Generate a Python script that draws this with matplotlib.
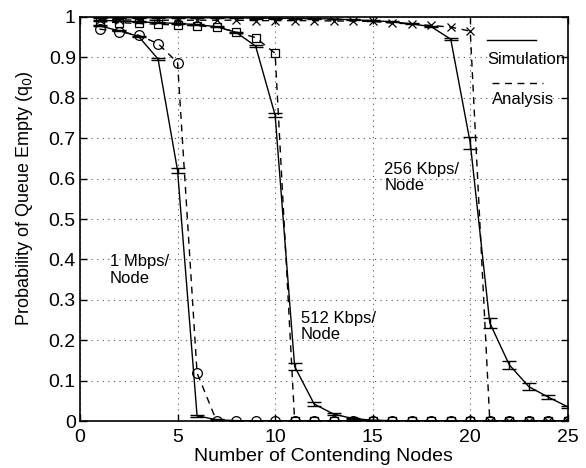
import matplotlib
matplotlib.use("Agg")
import matplotlib.pyplot as plt
from matplotlib.lines import Line2D
import numpy as np

plt.rcParams['font.family'] = ['Liberation Sans', 'DejaVu Sans']

nodes = list(range(1, 26))

# 1 Mbps/Node
sim_1m = [0.978, 0.966, 0.952, 0.896, 0.620, 0.013, 0.003, 0.001, 0, 0,
          0, 0, 0, 0, 0, 0, 0, 0, 0, 0, 0, 0, 0, 0, 0]
err_1m = [0.001, 0.001, 0.002, 0.003, 0.005, 0.003, 0.001, 0, 0, 0,
          0, 0, 0, 0, 0, 0, 0, 0, 0, 0, 0, 0, 0, 0, 0]
ana_1m = [0.970, 0.964, 0.955, 0.934, 0.887, 0.119, 0, 0, 0, 0,
          0, 0, 0, 0, 0, 0, 0, 0, 0, 0, 0, 0, 0, 0, 0]

# 512 Kbps/Node
sim_512 = [0.992, 0.990, 0.988, 0.986, 0.984, 0.981, 0.976, 0.962, 0.928, 0.757,
           0.135, 0.042, 0.017, 0.006, 0.002, 0.001, 0, 0, 0, 0, 0, 0, 0, 0, 0]
err_512 = [0.001, 0.001, 0.001, 0.001, 0.001, 0.001, 0.001, 0.002, 0.002, 0.005,
           0.009, 0.004, 0.002, 0.001, 0.001, 0, 0, 0, 0, 0, 0, 0, 0, 0, 0]
ana_512 = [0.988, 0.986, 0.984, 0.982, 0.980, 0.978, 0.975, 0.963, 0.949, 0.910,
           0, 0, 0, 0, 0, 0, 0, 0, 0, 0, 0, 0, 0, 0, 0]

# 256 Kbps/Node
sim_256 = [0.998, 0.998, 0.998, 0.998, 0.998, 0.998, 0.998, 0.998, 0.997, 0.997,
           0.996, 0.996, 0.995, 0.993, 0.991, 0.988, 0.983, 0.976, 0.945, 0.688,
           0.243, 0.139, 0.085, 0.059, 0.035]
err_256 = [0.001, 0.001, 0.001, 0.001, 0.001, 0.001, 0.001, 0.001, 0.001, 0.001,
           0.001, 0.001, 0.001, 0.001, 0.001, 0.001, 0.001, 0.002, 0.002, 0.015,
           0.012, 0.010, 0.008, 0.005, 0.003]
ana_256 = [0.993, 0.993, 0.992, 0.992, 0.992, 0.992, 0.992, 0.992, 0.991, 0.991,
           0.991, 0.991, 0.990, 0.990, 0.989, 0.985, 0.983, 0.979, 0.975, 0.965,
           0, 0, 0, 0, 0]

labels_1m = "1 Mbps/\nNode"
labels_512 = "512 Kbps/\nNode"
labels_256 = "256 Kbps/\nNode"

fig = plt.figure(figsize=(5.86, 4.68), dpi=100)
ax = fig.add_axes([0.1365, 0.1004, 0.8325, 0.8633])

for sim, err, ana, mk, ms in [(sim_1m, err_1m, ana_1m, 'o', 7),
                              (sim_512, err_512, ana_512, 's', 6),
                              (sim_256, err_256, ana_256, 'x', 6)]:
    ax.errorbar(nodes, sim, yerr=err, color='black', lw=1.0, capsize=5,
                elinewidth=1.0, capthick=1.0)
    ax.plot(nodes, ana, color='black', lw=1.0, ls=(0, (5, 4)), marker=mk,
            markersize=ms, markerfacecolor='none', markeredgecolor='black',
            markeredgewidth=0.9)

ax.set_xlim(0, 25)
ax.set_ylim(0, 1)
ax.set_xticks([0, 5, 10, 15, 20, 25])
ax.set_yticks(np.arange(0, 1.01, 0.1))
ax.set_yticklabels(['0', '0.1', '0.2', '0.3', '0.4', '0.5', '0.6', '0.7',
                    '0.8', '0.9', '1'])
ax.tick_params(direction='in', top=True, right=True, labelsize=14,
               length=5, width=1)
ax.tick_params(axis='x', pad=6)
ax.tick_params(axis='y', pad=3)
ax.grid(True, color='#555555', ls=(0, (1, 4)), lw=0.8)
for s in ax.spines.values():
    s.set_linewidth(1.2)

ax.set_xlabel("Number of Contending Nodes", fontsize=14)
ax.xaxis.set_label_coords(0.5, -0.067)
ax.set_ylabel("Probability of Queue Empty (q$_0$)", fontsize=13)
ax.yaxis.set_label_coords(-0.092, 0.552)

ax.text(1.54, 0.374, labels_1m, fontsize=12, va='center', linespacing=1.1)
ax.text(11.33, 0.233, labels_512, fontsize=12, va='center', linespacing=1.1)
ax.text(15.6, 0.603, labels_256, fontsize=12, va='center', linespacing=1.1)

# legend (line above text, no box)
ax.add_line(Line2D([0.835, 0.935], [0.943, 0.943], transform=ax.transAxes,
                   color='black', lw=1.0))
ax.text(0.835, 0.896, "Simulation", transform=ax.transAxes, fontsize=12,
        va='center', ha='left')
ax.add_line(Line2D([0.845, 0.950], [0.837, 0.837], transform=ax.transAxes,
                   color='black', lw=1.0, ls=(0, (5, 4))))
ax.text(0.845, 0.795, "Analysis", transform=ax.transAxes, fontsize=12,
        va='center', ha='left')

fig.savefig("out.png", dpi=100)
